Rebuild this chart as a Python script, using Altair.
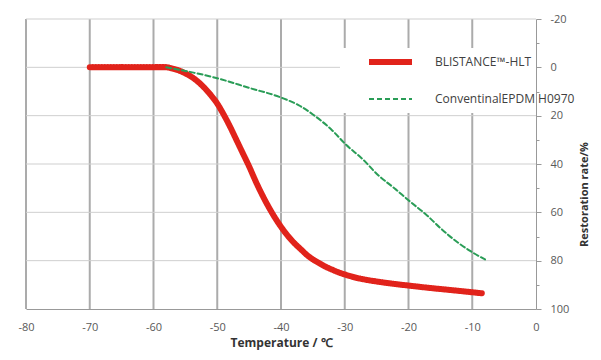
import altair as alt
import pandas as pd

# --- data ---
series_names = ["BLISTANCE™-HLT", "ConventinalEPDM H0970"]

red_x = [-70, -65, -60, -58, -57, -56, -55, -54, -53, -52, -51, -50, -49, -48, -47, -46, -45,
         -44, -43, -42, -41, -40, -39, -38, -37, -36, -35, -34, -33, -32, -31, -30, -28, -26,
         -24, -22, -20, -17, -14, -11, -8.5]
red_y = [0, 0, 0, 0, 0.5, 1.3, 2.5, 4, 6, 8.5, 11.5, 15, 19.5, 24.5, 30, 35.5, 41,
         47, 52.5, 57.5, 62, 66, 69.5, 72.5, 75, 77.5, 79.5, 81, 82.5, 83.7, 84.8, 85.7, 87.2, 88.2,
         89, 89.7, 90.3, 91.2, 92, 92.8, 93.5]

green_x = [-58, -55, -50, -45, -40, -37, -35, -32, -30, -27, -25, -22, -20, -17, -15, -12, -10, -8]
green_y = [0, 1.5, 4.5, 8.5, 12.5, 16, 19.5, 26, 31.5, 38.5, 44, 50.5, 55, 61.5, 66.5, 73, 76.5, 79.5]

x_ticks = [-80, -70, -60, -50, -40, -30, -20, -10, 0]
y_ticks = [-20, -10, 0, 10, 20, 30, 40, 50, 60, 70, 80, 90, 100]
y_grid = [-20, 0, 20, 40, 60, 80]
x_grid = [-80, -70, -60, -50, -40, -30, -20, -10]
y_min, y_max = -20, 100

colors = ["#e1231b", "#2a9d57"]
dashes = [[1, 0], [5, 3]]
widths = [6, 2]

rows = []
for x, y in zip(red_x, red_y):
    rows.append({"series": series_names[0], "t": x, "r": y, "o": len(rows)})
for x, y in zip(green_x, green_y):
    rows.append({"series": series_names[1], "t": x, "r": y, "o": len(rows)})
df = pd.DataFrame(rows)
ygrid_df = pd.DataFrame({"v": y_grid})
xgrid_df = pd.DataFrame({"gx": x_grid, "y0": [y_min] * len(x_grid), "y1": [y_max] * len(x_grid)})

FONT = "Open Sans"
GRID = "#cfcfcf"
VGRID = "#ababab"
AXIS = "#999999"

y_scale = alt.Scale(domain=[y_min, y_max], reverse=True, nice=False, zero=False)
x_scale = alt.Scale(domain=[-80, 0], nice=False, zero=False)

y_axis = alt.Axis(
    orient="right", values=y_ticks,
    labelExpr="datum.value % 20 === 0 ? replace(datum.label, '\u2212', '-') : ''",
    grid=False,
    tickSize={"condition": {"test": "datum.value % 20 === 0", "value": 5}, "value": 3},
    tickColor=AXIS, domainColor=AXIS,
    labelColor="#595959", labelFont=FONT, labelFontSize=11, labelPadding=9, labelAlign="left",
    title="Restoration rate/%", titleFont=FONT, titleFontSize=11, titleFontWeight="bold",
    titleColor="#333333", titleAngle=270, titleBaseline="middle", titleAlign="center",
    titleX=48, titleY=175, zindex=2,
)

x_axis = alt.Axis(
    values=x_ticks, grid=False,
    ticks=False, domainColor=AXIS, labelFlush=False,
    labelExpr="replace(datum.label, '\u2212', '-')",
    labelColor="#595959", labelFont=FONT, labelFontSize=11, labelPadding=12,
    title="Temperature  /  ℃", titleFont=FONT, titleFontSize=12, titleFontWeight="bold",
    titleColor="#333333", titlePadding=5, zindex=0,
)

hgrid = alt.Chart(ygrid_df).mark_rule(color=GRID, strokeWidth=1).encode(
    y=alt.Y("v:Q", scale=y_scale, axis=y_axis),
)
vgrid = alt.Chart(xgrid_df).mark_rule(color=VGRID, strokeWidth=2).encode(
    x=alt.X("gx:Q", scale=x_scale, axis=x_axis),
    y=alt.Y("y0:Q", scale=y_scale, axis=y_axis),
    y2=alt.Y2("y1:Q"),
)

lines = alt.Chart(df).mark_line(interpolate="monotone", strokeCap="round").encode(
    x=alt.X("t:Q", scale=x_scale, axis=x_axis),
    y=alt.Y("r:Q", scale=y_scale, axis=y_axis),
    color=alt.Color("series:N", scale=alt.Scale(domain=series_names, range=colors), title=None),
    strokeDash=alt.StrokeDash("series:N", scale=alt.Scale(domain=series_names, range=dashes), title=None),
    strokeWidth=alt.StrokeWidth("series:N", scale=alt.Scale(domain=series_names, range=widths), title=None),
    order="o:Q",
)

chart = alt.layer(vgrid, hgrid, lines).properties(
    width=510, height=290,
    padding={"left": 9, "top": 5, "right": 0, "bottom": 3},
).configure_view(stroke=None).configure_legend(
    orient="none", legendX=314, legendY=29,
    fillColor="white", strokeColor=None, padding=8,
    symbolType="stroke", symbolSize=1849, symbolOffset=18,
    clipHeight=12, rowPadding=25, labelOffset=20,
    labelFont=FONT, labelFontSize=12, labelColor="#404040", labelLimit=300,
    zindex=1,
)

chart.save("out.html", embed_options={"renderer": "svg", "actions": False})
